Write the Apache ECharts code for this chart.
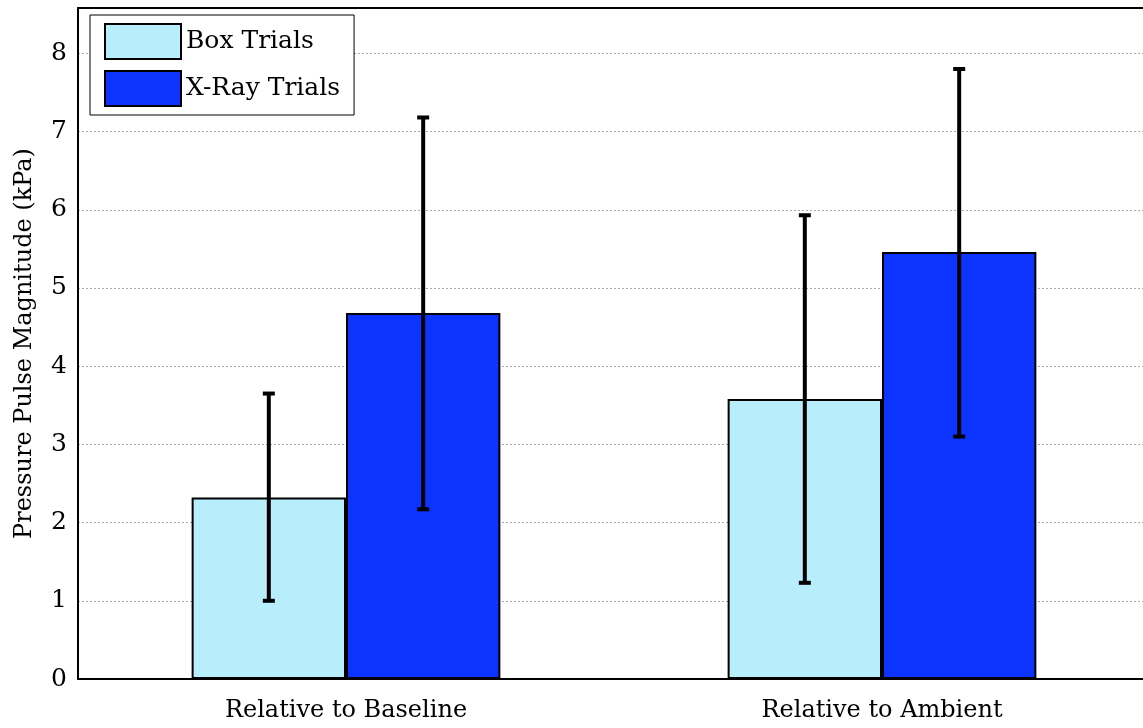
<!DOCTYPE html>
<html><head><meta charset="utf-8">
<script src="https://cdn.jsdelivr.net/npm/echarts@6/dist/echarts.min.js"></script>
<style>html,body{margin:0;padding:0;background:#fff}#c{width:1143px;height:728px}</style>
</head><body><div id="c"></div>
<script>
const categories = ['Relative to Baseline', 'Relative to Ambient'];
const seriesNames = ['Box Trials', 'X-Ray Trials'];
const boxValues = [2.32, 3.58];
const xrayValues = [4.68, 5.46];
const boxErrLow = [1.00, 1.23];
const boxErrHigh = [3.65, 5.93];
const xrayErrLow = [2.17, 3.10];
const xrayErrHigh = [7.18, 7.80];
const yTicks = [0, 1, 2, 3, 4, 5, 6, 7, 8];

const FONT = 'DejaVu Serif';
const BARW = 0.288;
function errSeries(low, high, idx) {
  return {
    type: 'custom',
    z: 10,
    data: categories.map((c, i) => [i, low[i], high[i]]),
    renderItem: function (params, api) {
      const i = api.value(0);
      const band = api.size([1, 0])[0];
      const off = (idx === 0 ? -1 : 1) * band * BARW / 2;
      const pLow = api.coord([i, api.value(1)]);
      const pHigh = api.coord([i, api.value(2)]);
      const x = pLow[0] + off;
      const cap = 6;
      const st = { stroke: '#000', lineWidth: 4 };
      return {
        type: 'group',
        children: [
          { type: 'line', shape: { x1: x, y1: pLow[1], x2: x, y2: pHigh[1] }, style: st },
          { type: 'line', shape: { x1: x - cap, y1: pLow[1], x2: x + cap, y2: pLow[1] }, style: st },
          { type: 'line', shape: { x1: x - cap, y1: pHigh[1], x2: x + cap, y2: pHigh[1] }, style: st }
        ]
      };
    }
  };
}
const chart = echarts.init(document.getElementById('c'));
chart.setOption({
  animation: false,
  backgroundColor: '#fff',
  grid: { left: 78, right: -7, top: 8, bottom: 49, containLabel: false, outerBoundsMode: 'none' },
  legend: {
    orient: 'vertical', left: 90, top: 15, padding: [8, 14, 8, 14],
    itemWidth: 76, itemHeight: 35, itemGap: 10,
    borderColor: '#000', borderWidth: 1, backgroundColor: '#fff',
    textStyle: { fontFamily: FONT, fontSize: 25, color: '#000' },
    icon: 'rect',
    data: seriesNames
  },
  xAxis: [{
    type: 'category', data: categories, position: 'bottom',
    axisLine: { lineStyle: { color: '#000', width: 2 } },
    axisTick: { show: false },
    axisLabel: { fontFamily: FONT, fontSize: 24, color: '#000', margin: 20 }
  }, {
    type: 'category', data: categories, position: 'top',
    axisLine: { show: true, lineStyle: { color: '#000', width: 2 } },
    axisTick: { show: false }, axisLabel: { show: false }
  }],
  yAxis: {
    type: 'value', min: 0, max: 8.58, interval: 1,
    name: 'Pressure Pulse Magnitude (kPa)', nameLocation: 'middle', nameGap: 41,
    nameTextStyle: { fontFamily: FONT, fontSize: 24, color: '#000' },
    axisLine: { show: true, lineStyle: { color: '#000', width: 2 } },
    axisTick: { show: false },
    axisLabel: {
      fontFamily: FONT, fontSize: 25, color: '#000', margin: 11,
      formatter: v => (yTicks.indexOf(v) >= 0 ? String(v) : '')
    },
    splitLine: { lineStyle: { color: '#aaa', type: [2, 2], width: 1 } }
  },
  series: [
    { name: seriesNames[0], type: 'bar', data: boxValues, barWidth: (BARW * 100) + '%', barGap: '0%',
      itemStyle: { color: '#B8EEFB', borderColor: '#000', borderWidth: 2 } },
    { name: seriesNames[1], type: 'bar', data: xrayValues, barWidth: (BARW * 100) + '%', barGap: '0%',
      itemStyle: { color: '#0D33FF', borderColor: '#000', borderWidth: 2 } },
    errSeries(boxErrLow, boxErrHigh, 0),
    errSeries(xrayErrLow, xrayErrHigh, 1)
  ]
});
</script></body></html>
